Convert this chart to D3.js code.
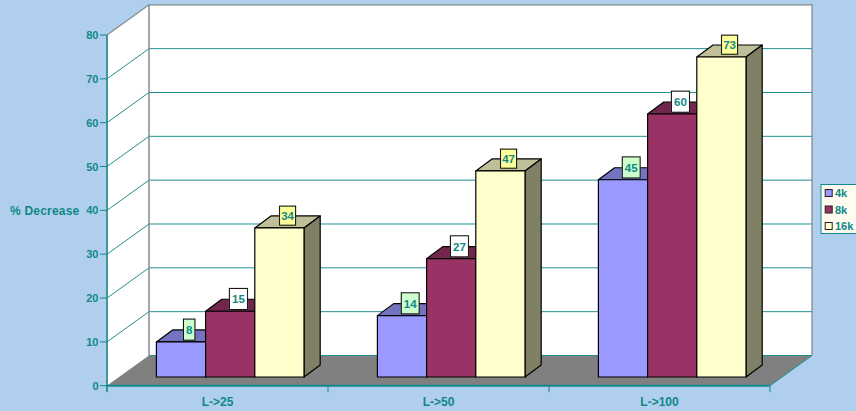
<!DOCTYPE html>
<html><head><meta charset="utf-8">
<script src="https://cdn.jsdelivr.net/npm/d3@7"></script>
<style>html,body{margin:0;padding:0;background:#b0cfee}svg{display:block}text{font-family:"Liberation Sans",Arial,sans-serif;font-weight:bold;font-size:11px;fill:#108888}</style>
</head><body><script>
const categories = ["L->25","L->50","L->100"];
const seriesNames = ["4k","8k","16k"];
const v4k = [8,14,45];
const v8k = [15,27,60];
const v16k = [34,47,73];
const yTicks = [0,10,20,30,40,50,60,70,80];
const allValues = [v4k,v8k,v16k];
const frontFill = ["#9999ff","#993366","#ffffcc"];
const topFill = ["#7373bf","#73264d","#bfbf99"];
const sideFill = ["#737399","#73264d","#808066"];
const labelFill = ["#ccffcc","#ffffff","#ffff99"];
const labelPad = [2.5,2.6,1.6];
const labelH = [21,21,19];
const teal = "#108888";

const W=856,H=411;
const svg=d3.select("body").append("svg").attr("width",W).attr("height",H);
svg.append("rect").attr("width",W).attr("height",H).attr("fill","#b0cfee");
const x0=107,x1=770,depthX=42,depthY=30.2;
const x=d3.scaleBand().domain(categories).range([x0,x1]);
const y=d3.scaleLinear().domain([0,80]).range([385.7,35]);
const inner=d3.scaleBand().domain(d3.range(3)).range([49.4,197]);
const barDY=8.7,bx=16.2,by=12;
const poly=pts=>pts.map(p=>p.join(",")).join(" ");

// walls
const yB=v=>y(v)-depthY;
svg.append("polygon").attr("points",poly([[x0,y(0)],[x0+depthX,yB(0)],[x0+depthX,yB(80)],[x0,y(80)]])).attr("fill","#fff");
svg.append("rect").attr("x",x0+depthX).attr("y",yB(80)).attr("width",x1-x0).attr("height",y(0)-y(80)).attr("fill","#fff");
// floor
svg.append("polygon").attr("points",poly([[x0,y(0)],[x0+depthX,yB(0)],[x1+depthX,yB(0)],[x1,y(0)]])).attr("fill","#808080");
// grid
yTicks.filter(t=>t>0&&t<80).forEach(t=>{
  svg.append("path").attr("fill","none").attr("stroke","#209090").attr("stroke-width",1)
    .attr("d",`M${x0},${y(t)}L${x0+depthX},${yB(t)}L${x1+depthX},${yB(t)}`);
});
// wall edges
svg.append("path").attr("fill","none").attr("stroke","#808c8c").attr("stroke-width",1.3)
  .attr("d",`M${x0},${y(80)}L${x0+depthX},${yB(80)}L${x1+depthX},${yB(80)}L${x1+depthX},${yB(0)}`);
svg.append("line").attr("x1",x0+depthX).attr("x2",x0+depthX).attr("y1",yB(80)).attr("y2",yB(0)).attr("stroke","#808c8c").attr("stroke-width",1.5);
svg.append("line").attr("x1",x0+depthX).attr("x2",x1+depthX).attr("y1",yB(0)).attr("y2",yB(0)).attr("stroke","#209090").attr("stroke-width",1.2);
svg.append("line").attr("x1",x1).attr("x2",x1+depthX).attr("y1",y(0)).attr("y2",yB(0)).attr("stroke","#209090").attr("stroke-width",1);

// bars
const labels=[];
categories.forEach((c,ci)=>{
  allValues.forEach((vals,si)=>{
    const v=vals[ci];
    const xl=x(c)+inner(si), w=inner.bandwidth();
    const base=y(0)-barDY, top=base-(y(0)-y(v));
    const g=svg.append("g").attr("stroke","#000").attr("stroke-width",1.2).attr("stroke-linejoin","round");
    g.append("polygon").attr("points",poly([[xl,top],[xl+bx,top-by],[xl+w+bx,top-by],[xl+w,top]])).attr("fill",topFill[si]);
    g.append("polygon").attr("points",poly([[xl+w,top],[xl+w+bx,top-by],[xl+w+bx,base-by],[xl+w,base]])).attr("fill",sideFill[si]);
    g.append("rect").attr("x",xl).attr("y",top).attr("width",w).attr("height",base-top).attr("fill",frontFill[si]);
    labels.push({v,si,cx:xl+w/2+8.2,cy:top-12.3});
  });
});

// axes
svg.append("line").attr("x1",x0).attr("x2",x0).attr("y1",y(80)).attr("y2",y(0)+6).attr("stroke","#2f8f8f").attr("stroke-width",1.8);
svg.append("line").attr("x1",x0).attr("x2",x1).attr("y1",y(0)).attr("y2",y(0)).attr("stroke",teal).attr("stroke-width",2);
yTicks.forEach(t=>{
  svg.append("line").attr("x1",x0-7).attr("x2",x0).attr("y1",y(t)).attr("y2",y(t)).attr("stroke",teal).attr("stroke-width",1);
  svg.append("text").attr("x",x0-8.5).attr("y",y(t)+4).attr("text-anchor","end").text(t);
});
[...categories.map(c=>x(c)),x1].forEach(px=>{
  svg.append("line").attr("x1",px).attr("x2",px).attr("y1",y(0)).attr("y2",y(0)+6.5).attr("stroke","#2f8f8f").attr("stroke-width",1.2);
});
categories.forEach(c=>{
  svg.append("text").attr("x",x(c)+x.bandwidth()/2).attr("y",405.5).attr("text-anchor","middle").style("font-size","12px").text(c);
});
svg.append("text").attr("x",10).attr("y",215.3).style("font-size","12px").style("letter-spacing","0.2px").text("% Decrease");

// data labels
labels.forEach(d=>{
  const g=svg.append("g");
  const r=g.append("rect");
  const t=g.append("text").attr("x",d.cx).attr("y",d.cy+4.2).attr("text-anchor","middle").style("font-size","11.5px").text(d.v);
  const tw=t.node().getComputedTextLength(), bw=tw+2*labelPad[d.si], bh=labelH[d.si];
  g.insert("rect","rect").attr("x",d.cx-bw/2-.8).attr("y",d.cy-bh/2-.8).attr("width",bw+1.6).attr("height",bh+1.6).attr("fill","#777").attr("opacity",.45);
  r.attr("x",d.cx-bw/2).attr("y",d.cy-bh/2).attr("width",bw).attr("height",bh).attr("fill",labelFill[d.si]).attr("stroke","#000").attr("stroke-width",.9);
  g.selectAll("text").raise();
});

// legend
svg.append("rect").attr("x",821).attr("y",184.5).attr("width",40).attr("height",49).attr("fill","#fffbf0").attr("stroke",teal).attr("stroke-width",1);
const legY=d3.scalePoint().domain(seriesNames).range([193,226]);
seriesNames.forEach((s,i)=>{
  svg.append("rect").attr("x",825.2).attr("y",legY(s)-3.5).attr("width",7).attr("height",7).attr("fill",frontFill[i]).attr("stroke","#222").attr("stroke-width",1);
  svg.append("text").attr("x",835).attr("y",legY(s)+4).text(s);
});
</script></body></html>
